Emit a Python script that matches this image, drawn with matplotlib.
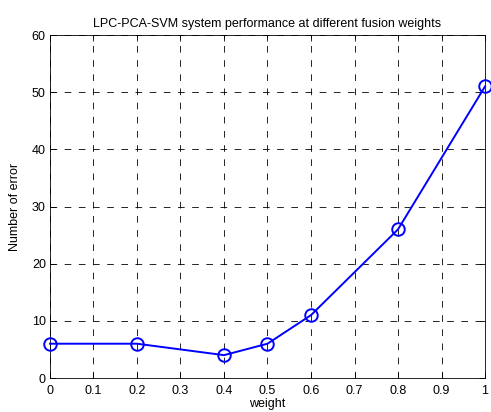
import matplotlib
matplotlib.use("Agg")
import matplotlib.pyplot as plt

plt.rcParams['font.family'] = ['Liberation Sans', 'DejaVu Sans']

weights = [0, 0.2, 0.4, 0.5, 0.6, 0.8, 1.0]
errors = [6, 6, 4, 6, 11, 26, 51]
x_ticks = [0, 0.1, 0.2, 0.3, 0.4, 0.5, 0.6, 0.7, 0.8, 0.9, 1]
x_labels = ["0", "0.1", "0.2", "0.3", "0.4", "0.5", "0.6", "0.7", "0.8", "0.9", "1"]
y_ticks = [0, 10, 20, 30, 40, 50, 60]

fig = plt.figure(figsize=(4.91, 4.12), dpi=100)
ax = fig.add_axes([0.1018, 0.0825, 0.886, 0.8325])

ax.plot(weights, errors, color="#0000ff", linewidth=1.4,
        marker="o", markersize=9, markerfacecolor="none",
        markeredgecolor="#0000ff", markeredgewidth=1.4, clip_on=False, zorder=3)

ax.set_xlim(0, 1)
ax.set_ylim(0, 60)
ax.set_xticks(x_ticks)
ax.set_xticklabels(x_labels)
ax.set_yticks(y_ticks)
ax.grid(True, color="black", linestyle=(0, (8, 9)), linewidth=0.6)
ax.tick_params(direction="in", length=4, width=0.6, labelsize=9,
               top=True, right=True)
ax.tick_params(axis="x", pad=5)
ax.tick_params(axis="y", pad=3)
for s in ax.spines.values():
    s.set_linewidth(0.6)

ax.set_title("LPC-PCA-SVM system performance at different fusion weights",
             fontsize=9, pad=6)
ax.set_xlabel("weight", fontsize=9, labelpad=1)
ax.set_ylabel("Number of error", fontsize=9, labelpad=8)

fig.savefig("out.png", dpi=100)
